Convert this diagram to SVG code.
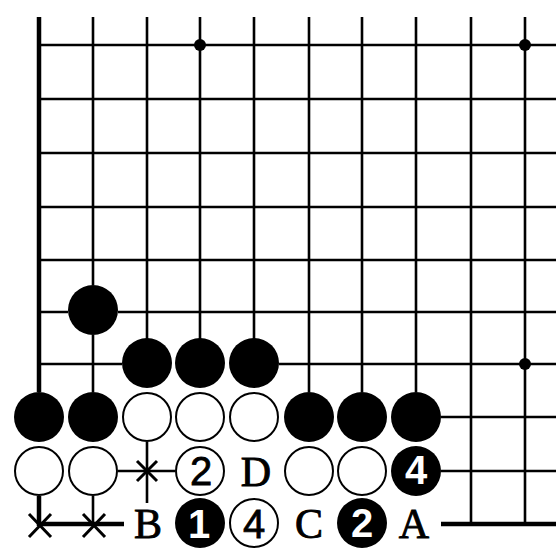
<svg xmlns="http://www.w3.org/2000/svg" width="556" height="548" viewBox="0 0 556 548">
<style>
.g{stroke:#000;stroke-width:2.6;fill:none;stroke-linecap:butt}
.e{stroke:#000;stroke-width:4.5;fill:none}
.b{fill:#000}
.w{fill:#fff;stroke:#000;stroke-width:2}
.star{fill:#000}
.mk{stroke:#000;stroke-width:3;fill:none}
.lbl{font-family:"Liberation Serif","Times New Roman",serif;font-size:42px;fill:#000;stroke:#000;stroke-width:0.9;text-anchor:middle}
.nb{font-family:"Liberation Sans",Arial,sans-serif;font-size:40px;font-weight:bold;fill:#fff;text-anchor:middle}
.nw{font-family:"Liberation Sans",Arial,sans-serif;font-size:40px;fill:#000;stroke:#000;stroke-width:0.8;text-anchor:middle}
</style>
<rect width="556" height="548" fill="#fff"/>
<g id="connectors">
<path class="e" d="M39 17V392M39 496V526"/>
<path class="g" d="M93 17V285M93 335V392M93 496V524"/>
<path class="g" d="M147 17V339M147 442V503"/>
<path class="g" d="M200 17V339M254 17V339"/>
<path class="g" d="M309 17V392M362 17V392M416 17V392"/>
<path class="g" d="M471 17V524M525 17V524"/>
<path class="g" d="M39 45H556M39 99H556M39 153H556M39 207H556M39 260H556"/>
<path class="g" d="M39 312H68M118 312H556"/>
<path class="g" d="M39 364H122M279 364H556"/>
<path class="g" d="M441 417H556"/>
<path class="g" d="M118 471H175M441 471H556"/>
<path class="e" d="M39 524H124M441 524H556"/>
</g>
<g id="stars">
<circle class="star" cx="200" cy="45" r="6"/>
<circle class="star" cx="525" cy="45" r="6"/>
<circle class="star" cx="525" cy="364" r="6"/>
</g>
<g id="s-b-93-310"><circle class="b" cx="93" cy="310" r="25"/></g>
<g id="s-b-147-364"><circle class="b" cx="147" cy="363" r="25"/></g>
<g id="s-b-200-364"><circle class="b" cx="200" cy="363" r="25"/></g>
<g id="s-b-254-364"><circle class="b" cx="254" cy="363" r="25"/></g>
<g id="s-b-39-417"><circle class="b" cx="39" cy="417" r="25"/></g>
<g id="s-b-93-417"><circle class="b" cx="93" cy="417" r="25"/></g>
<g id="s-w-147-417"><circle class="w" cx="147" cy="417" r="24"/></g>
<g id="s-w-200-417"><circle class="w" cx="200" cy="417" r="24"/></g>
<g id="s-w-254-417"><circle class="w" cx="254" cy="417" r="24"/></g>
<g id="s-b-309-417"><circle class="b" cx="309" cy="417" r="25"/></g>
<g id="s-b-362-417"><circle class="b" cx="362" cy="417" r="25"/></g>
<g id="s-b-416-417"><circle class="b" cx="416" cy="417" r="25"/></g>
<g id="s-w-39-471"><circle class="w" cx="39" cy="471" r="24"/></g>
<g id="s-w-93-471"><circle class="w" cx="93" cy="471" r="24"/></g>
<g id="mark-147-471"><path class="mk" d="M137 461L157 481M157 461L137 481"/></g>
<g id="s-w2"><circle class="w" cx="200" cy="471" r="24"/><text class="nw" x="201" y="485">2</text></g>
<g id="lbl-D"><text class="lbl" x="256" y="486">D</text></g>
<g id="s-w-309-471"><circle class="w" cx="309" cy="471" r="24"/></g>
<g id="s-w-362-471"><circle class="w" cx="362" cy="471" r="24"/></g>
<g id="s-b4"><circle class="b" cx="416" cy="471" r="25"/><text class="nb" x="416" y="484">4</text></g>
<g id="mark-39-524"><path class="mk" d="M29 514L51 537M51 514L29 537"/></g>
<g id="mark-93-524"><path class="mk" d="M83 514L105 537M105 514L83 537"/></g>
<g id="lbl-B"><text class="lbl" x="148" y="538">B</text></g>
<g id="s-b1"><circle class="b" cx="200" cy="523" r="25"/><text class="nb" x="199" y="538">1</text></g>
<g id="s-w4"><circle class="w" cx="254" cy="523" r="24"/><text class="nw" x="254" y="538">4</text></g>
<g id="lbl-C"><text class="lbl" x="309" y="538">C</text></g>
<g id="s-b2"><circle class="b" cx="362" cy="523" r="25"/><text class="nb" x="362" y="537">2</text></g>
<g id="lbl-A"><text class="lbl" x="414" y="538">A</text></g>
</svg>
